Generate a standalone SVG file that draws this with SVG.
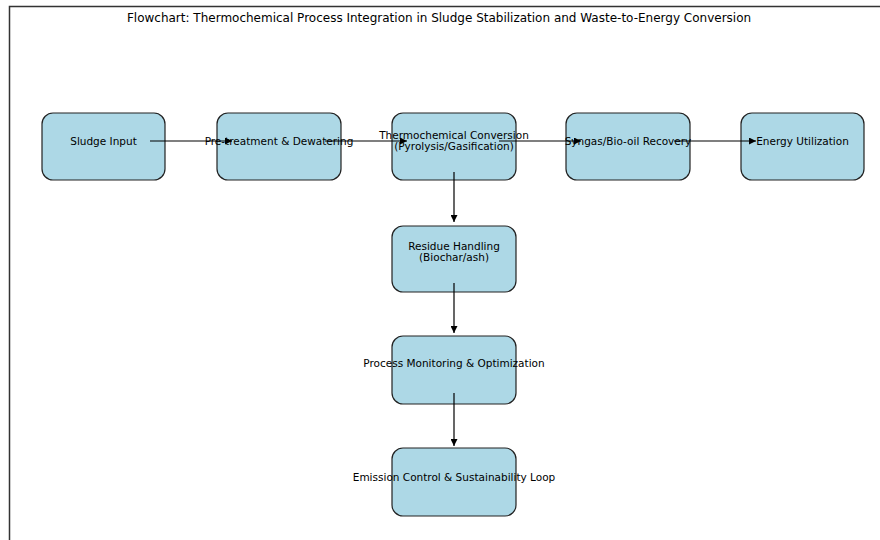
<svg xmlns="http://www.w3.org/2000/svg" width="880" height="540" viewBox="0 0 880 540">
<style>
.box{fill:#add8e6;stroke:#222;stroke-width:1.2}
.lbl{font-family:"DejaVu Sans",sans-serif;font-size:10.5px;fill:#000;text-anchor:middle}
.title{font-family:"DejaVu Sans",sans-serif;font-size:12px;fill:#000;text-anchor:middle}
.edge{stroke:#000;stroke-width:1.2;fill:none;marker-end:url(#ah)}
</style>
<defs>
<marker id="ah" viewBox="0 0 10 10" refX="10" refY="5" markerWidth="7" markerHeight="7" markerUnits="userSpaceOnUse" orient="auto">
<path d="M0,0 L10,5 L0,10 z" fill="#000"/>
</marker>
</defs>
<rect width="880" height="540" fill="#fff"/>
<path d="M9.5,540 V6.5 H880" fill="none" stroke="#333" stroke-width="1.5"/>
<text class="title" x="439" y="22">Flowchart: Thermochemical Process Integration in Sludge Stabilization and Waste-to-Energy Conversion</text>
<g id="n1"><rect class="box" x="42" y="113" width="123" height="67" rx="11"/><text class="lbl" x="103.5" y="144.5">Sludge Input</text></g>
<g id="n2"><rect class="box" x="217" y="113" width="124" height="67" rx="11"/><text class="lbl" x="279" y="144.5">Pre-treatment &amp; Dewatering</text></g>
<g id="n3"><rect class="box" x="392" y="113" width="124" height="67" rx="11"/><text class="lbl" x="454" y="138.5">Thermochemical Conversion</text><text class="lbl" x="454" y="150">(Pyrolysis/Gasification)</text></g>
<g id="n4"><rect class="box" x="566" y="113" width="124" height="67" rx="11"/><text class="lbl" x="628" y="144.5">Syngas/Bio-oil Recovery</text></g>
<g id="n5"><rect class="box" x="741" y="113" width="123" height="67" rx="11"/><text class="lbl" x="802.5" y="144.5">Energy Utilization</text></g>
<g id="n6"><rect class="box" x="392" y="226" width="124" height="66" rx="11"/><text class="lbl" x="454" y="249.5">Residue Handling</text><text class="lbl" x="454" y="261">(Biochar/ash)</text></g>
<g id="n7"><rect class="box" x="392" y="336" width="124" height="68" rx="11"/><text class="lbl" x="454" y="366.5">Process Monitoring &amp; Optimization</text></g>
<g id="n8"><rect class="box" x="392" y="448" width="124" height="68" rx="11"/><text class="lbl" x="454" y="480.5">Emission Control &amp; Sustainability Loop</text></g>
<g id="edges">
<line class="edge" x1="150" y1="141" x2="232" y2="141"/>
<line class="edge" x1="325" y1="141" x2="407" y2="141"/>
<line class="edge" x1="499" y1="141" x2="581" y2="141"/>
<line class="edge" x1="674" y1="141" x2="756" y2="141"/>
<line class="edge" x1="454" y1="172" x2="454" y2="222"/>
<line class="edge" x1="454" y1="283" x2="454" y2="333"/>
<line class="edge" x1="454" y1="393" x2="454" y2="446"/>
</g>
</svg>
